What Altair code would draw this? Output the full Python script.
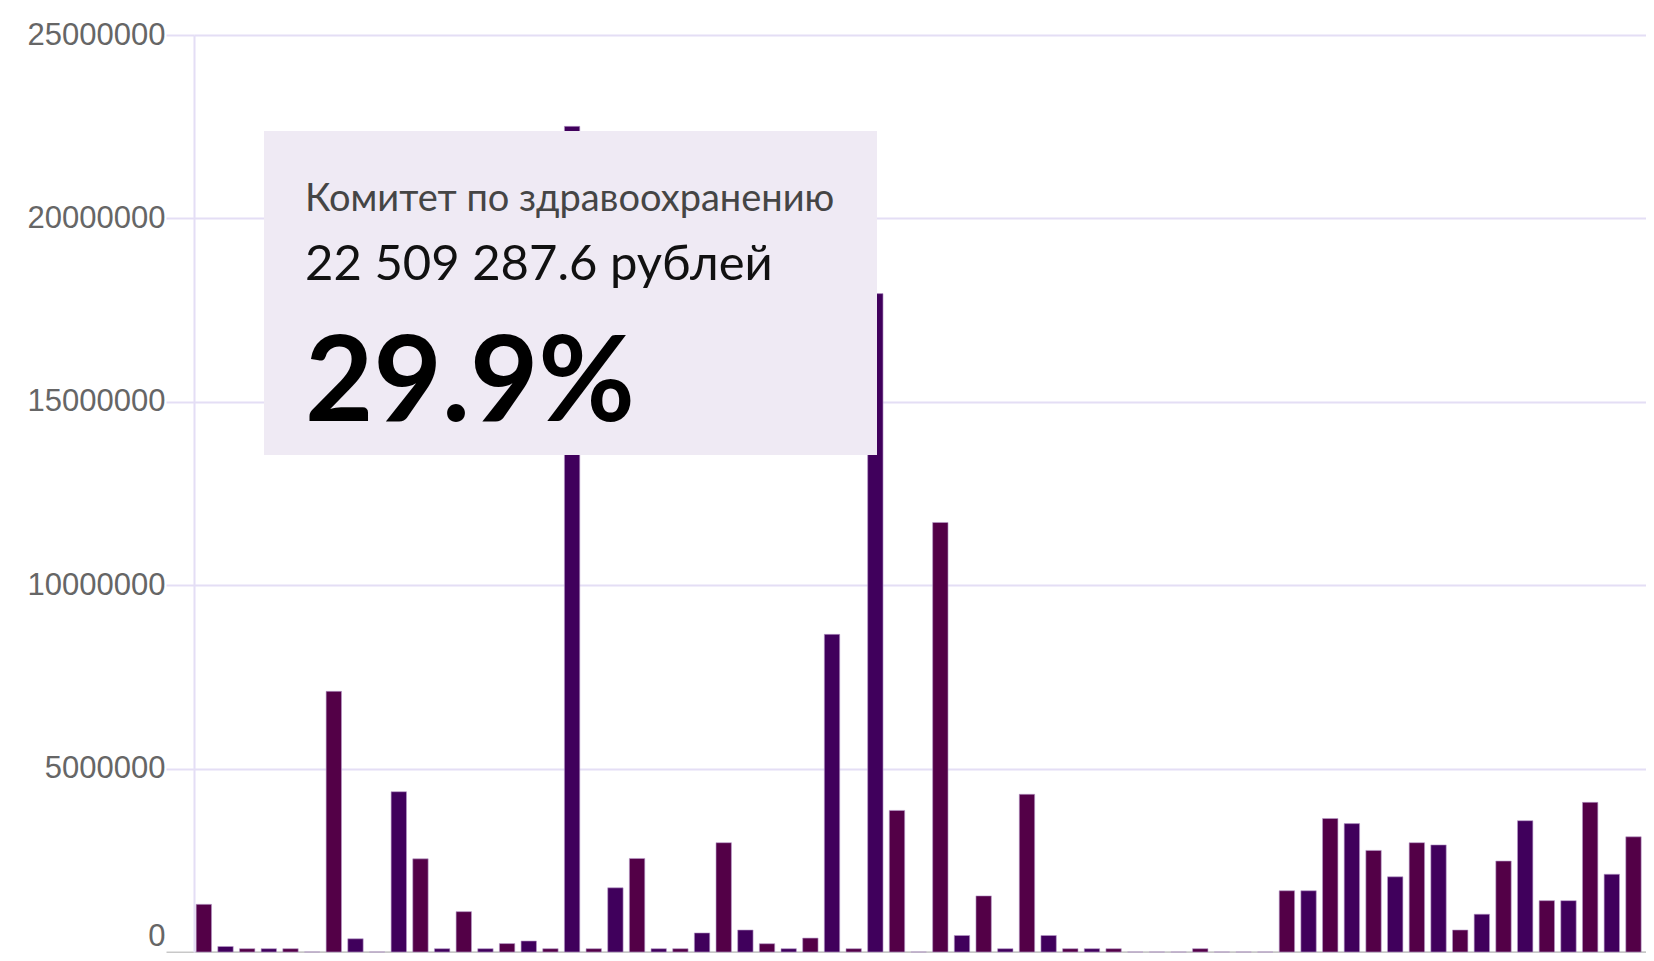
import altair as alt
import pandas as pd

# bar values (rubles), one per category index
values = [
    1300000, 150000, 90000, 90000, 90000, 0, 7106000, 360000, 0, 4370000,
    2540000, 90000, 1100000, 90000, 230000, 300000, 90000, 22509287.6, 90000, 1750000,
    2550000, 90000, 90000, 520000, 2980000, 600000, 226000, 90000, 380000, 8660000,
    90000, 17950000, 3860000, 0, 11710000, 450000, 1530000, 90000, 4300000, 450000,
    90000, 90000, 90000, 0, 0, 0, 90000, 0, 0, 0,
    1670000, 1670000, 3640000, 3500000, 2770000, 2050000, 2980000, 2920000, 600000, 1030000,
    2480000, 3580000, 1400000, 1400000, 4080000, 2120000, 3140000, 1970000,
]
categories = [str(i) for i in range(len(values))]
groups = ["a" if i % 2 == 0 else "b" for i in range(len(values))]
bar_colors = ["#530047", "#40005c"]
y_ticks = [0, 5000000, 10000000, 15000000, 20000000, 25000000]

tip_name = "Комитет по здравоохранению"
tip_value = "22 509 287.6 рублей"
tip_percent = "29.9%"

df = pd.DataFrame({"cat": categories, "value": values, "grp": groups})

grid_expr = "datum.value == 0 ? '#c8c8c8' : '#e4def5'"

bars = alt.Chart(df).mark_bar(stroke="#b99ccc", strokeWidth=1, strokeOpacity=0.6).encode(
    x=alt.X("cat:N", sort=None, title=None,
            scale=alt.Scale(paddingInner=0.29, paddingOuter=0.1, range=[0, 1471]),
            axis=alt.Axis(labels=False, ticks=False, grid=False, domainColor="#c8c8c8",
                          domainWidth=2)),
    y=alt.Y("value:Q", title=None,
            scale=alt.Scale(domain=[0, 25000000], nice=False),
            axis=alt.Axis(values=y_ticks, format="d", labelFont="Liberation Sans",
                          labelFontSize=31, labelColor="#666666", labelPadding=1,
                          labelOffset=alt.expr("datum.value == 0 ? -16 : 0"),
                          tickSize=28, tickWidth=2, tickColor=alt.expr(grid_expr),
                          gridColor=alt.expr(grid_expr), gridWidth=2,
                          domainColor="#e4def5", domainWidth=2)),
    color=alt.Color("grp:N", scale=alt.Scale(domain=["a", "b"], range=bar_colors), legend=None),
)

tipdf = pd.DataFrame({"name": [tip_name], "val": [tip_value], "pct": [tip_percent]})

box = alt.Chart(tipdf).mark_rect(color="#efeaf4").encode(
    x=alt.value(70), x2=alt.value(683), y=alt.value(96), y2=alt.value(420)
)
t1 = alt.Chart(tipdf).mark_text(align="left", baseline="alphabetic", font="Lato",
                                fontSize=38, color="#454545").encode(
    x=alt.value(111), y=alt.value(176), text="name:N")
t2 = alt.Chart(tipdf).mark_text(align="left", baseline="alphabetic", font="Lato",
                                fontSize=49, color="#111111").encode(
    x=alt.value(111), y=alt.value(245), text="val:N")
t3 = alt.Chart(tipdf).mark_text(align="left", baseline="alphabetic", font="Lato",
                                fontSize=118, fontWeight="bold", color="#000000").encode(
    x=alt.value(111), y=alt.value(386), text="pct:N")

chart = alt.layer(bars, box, t1, t2, t3).properties(
    width=1452, height=917,
    autosize=alt.AutoSizeParams(type="none"),
    padding={"left": 186, "top": 27, "right": 0, "bottom": 1},
    background="white",
).configure_view(stroke=None)

chart.save("out.html", embed_options={"renderer": "svg", "actions": False})
